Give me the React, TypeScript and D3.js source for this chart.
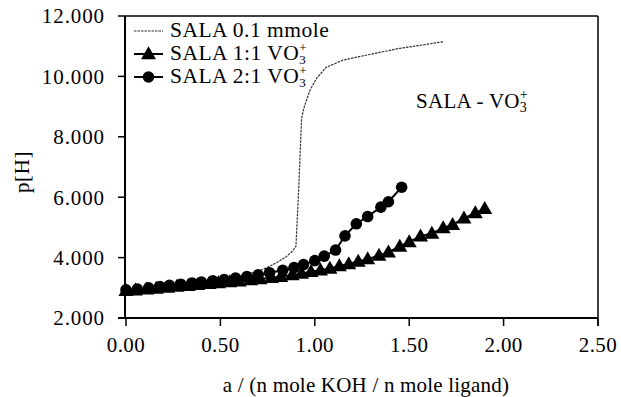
import React from "react";
import * as d3 from "d3";

const xTicks = [0, 0.5, 1.0, 1.5, 2.0, 2.5];
const yTicks = [2, 4, 6, 8, 10, 12];

// SALA 0.1 mmole (thin dotted line)
const salaX = [0.0, 0.1, 0.2, 0.3, 0.4, 0.5, 0.6, 0.7, 0.75, 0.8, 0.85, 0.88, 0.9, 0.915, 0.93, 0.94, 0.95, 0.975, 1.01, 1.06, 1.15, 1.27, 1.45, 1.55, 1.68];
const salaY = [2.88, 2.95, 3.02, 3.1, 3.18, 3.27, 3.38, 3.55, 3.68, 3.84, 4.04, 4.2, 4.37, 6.3, 8.6, 8.9, 9.1, 9.55, 9.94, 10.3, 10.54, 10.7, 10.93, 11.02, 11.15];

// SALA 1:1 VO3+ (triangles)
const tri_X = [0.0, 0.05, 0.11, 0.16, 0.22, 0.27, 0.33, 0.38, 0.44, 0.49, 0.55, 0.6, 0.66, 0.71, 0.77, 0.82, 0.88, 0.93, 0.98, 1.03, 1.08, 1.13, 1.18, 1.23, 1.28, 1.34, 1.39, 1.45, 1.5, 1.56, 1.62, 1.68, 1.73, 1.79, 1.85, 1.9];
const tri_Y = [2.9, 2.92, 2.95, 2.98, 3.01, 3.04, 3.07, 3.1, 3.13, 3.16, 3.19, 3.22, 3.26, 3.29, 3.33, 3.37, 3.42, 3.47, 3.53, 3.58, 3.64, 3.72, 3.79, 3.87, 3.95, 4.07, 4.18, 4.37, 4.52, 4.71, 4.8, 4.98, 5.09, 5.3, 5.48, 5.62];

// SALA 2:1 VO3+ (circles)
const cirX = [0.0, 0.06, 0.12, 0.18, 0.23, 0.29, 0.35, 0.4, 0.46, 0.52, 0.58, 0.64, 0.7, 0.76, 0.83, 0.89, 0.94, 1.0, 1.05, 1.11, 1.16, 1.22, 1.28, 1.35, 1.39, 1.46];
const cirY = [2.93, 2.96, 3.0, 3.04, 3.08, 3.12, 3.16, 3.19, 3.23, 3.27, 3.32, 3.37, 3.43, 3.5, 3.58, 3.67, 3.77, 3.9, 4.05, 4.25, 4.72, 5.12, 5.36, 5.67, 5.85, 6.33];

const legendLabels = ["SALA 0.1 mmole", "SALA 1:1 VO", "SALA 2:1 VO"];

const W = 621;
const H = 397;
const left = 126;
const right = 598;
const top = 16;
const bottom = 318;
const FONT = "'Liberation Serif', 'Times New Roman', serif";

export default function App() {
  const x = d3.scaleLinear().domain([0, 2.5]).range([left, right]);
  const y = d3.scaleLinear().domain([2, 12]).range([bottom, top]);
  const line = d3.line<[number, number]>().x(d => x(d[0])).y(d => y(d[1]));

  const sala = salaX.map((v, i) => [v, salaY[i]] as [number, number]);
  const tri = tri_X.map((v, i) => [v, tri_Y[i]] as [number, number]);
  const cir = cirX.map((v, i) => [v, cirY[i]] as [number, number]);

  const triPath = (cx: number, cy: number, s: number) =>
    `M${cx},${cy - s * 0.62}L${cx + s * 0.6},${cy + s * 0.42}L${cx - s * 0.6},${cy + s * 0.42}Z`;

  const legendRows = [37, 60, 83];

  return (
    <svg width={W} height={H} style={{ position: "absolute", left: 0, top: 0, background: "#fff" }} fontFamily={FONT}>
      <rect x={0} y={0} width={W} height={H} fill="#fff" />
      {/* frame */}
      <line x1={left - 1} x2={right} y1={top} y2={top} stroke="#000" strokeWidth={1.5} />
      <line x1={right} x2={right} y1={top} y2={bottom + 8} stroke="#000" strokeWidth={1.5} />
      <line x1={left - 1} x2={left - 1} y1={top} y2={bottom + 1} stroke="#000" strokeWidth={2} />
      <line x1={left - 8} x2={right} y1={bottom} y2={bottom} stroke="#000" strokeWidth={2} />

      {/* y ticks */}
      {yTicks.map(t => (
        <g key={"y" + t}>
          <line x1={left - 8} x2={left - 1} y1={y(t)} y2={y(t)} stroke="#000" strokeWidth={1.5} />
          <text x={105} y={y(t)} dy="0.35em" textAnchor="end" fontSize={21} letterSpacing={0.9}>
            {d3.format(".3f")(t)}
          </text>
        </g>
      ))}
      {/* x ticks */}
      {xTicks.map(t => (
        <g key={"x" + t}>
          <line x1={x(t)} x2={x(t)} y1={bottom} y2={bottom + 8} stroke="#000" strokeWidth={1.5} />
          <text x={x(t)} y={352} textAnchor="middle" fontSize={21} letterSpacing={0.4}>
            {d3.format(".2f")(t)}
          </text>
        </g>
      ))}

      <text x={x(1.25) + 4} y={392} textAnchor="middle" fontSize={21} letterSpacing={0.2}>
        a / (n mole KOH / n mole ligand)
      </text>
      <text transform={`translate(29,172) rotate(-90)`} textAnchor="middle" fontSize={21} letterSpacing={0.6}>
        p[H]
      </text>

      {/* SALA 0.1 */}
      <path d={line(sala) || ""} fill="none" stroke="#333" strokeWidth={1.2} strokeDasharray="2.5,1" />

      {/* 1:1 triangles */}
      <path d={line(tri) || ""} fill="none" stroke="#000" strokeWidth={2} />
      {tri.map((d, i) => (
        <path key={"t" + i} d={triPath(x(d[0]), y(d[1]), 12.5)} fill="#000" />
      ))}

      {/* 2:1 circles */}
      <path d={line(cir) || ""} fill="none" stroke="#000" strokeWidth={2} />
      {cir.map((d, i) => (
        <circle key={"c" + i} cx={x(d[0])} cy={y(d[1])} r={5.8} fill="#000" />
      ))}

      {/* legend */}
      <line x1={134} x2={163} y1={legendRows[0] - 6} y2={legendRows[0] - 6} stroke="#333" strokeWidth={1.2} strokeDasharray="2.5,1" />
      <line x1={134} x2={163} y1={legendRows[1] - 6} y2={legendRows[1] - 6} stroke="#000" strokeWidth={2} />
      <path d={triPath(148.5, legendRows[1] - 6, 12.5)} fill="#000" />
      <line x1={134} x2={163} y1={legendRows[2] - 6} y2={legendRows[2] - 6} stroke="#000" strokeWidth={2} />
      <circle cx={148.5} cy={legendRows[2] - 6} r={5.8} fill="#000" />

      {legendLabels.map((lab, i) => (
        <text key={"l" + i} x={170} y={legendRows[i]} fontSize={21.5} letterSpacing={0.5}>
          {lab}
          {i > 0 && (
            <>
              <tspan dy={4} fontSize={13} letterSpacing={0}>3</tspan>
              <tspan dx={-6.5} dy={-12} fontSize={13} letterSpacing={0}>+</tspan>
            </>
          )}
        </text>
      ))}

      {/* annotation */}
      <text x={416} y={108} fontSize={21} letterSpacing={0.3}>
        SALA - VO
        <tspan dy={4} fontSize={14} letterSpacing={0}>3</tspan>
        <tspan dx={-7} dy={-13} fontSize={14} letterSpacing={0}>+</tspan>
      </text>
    </svg>
  );
}
